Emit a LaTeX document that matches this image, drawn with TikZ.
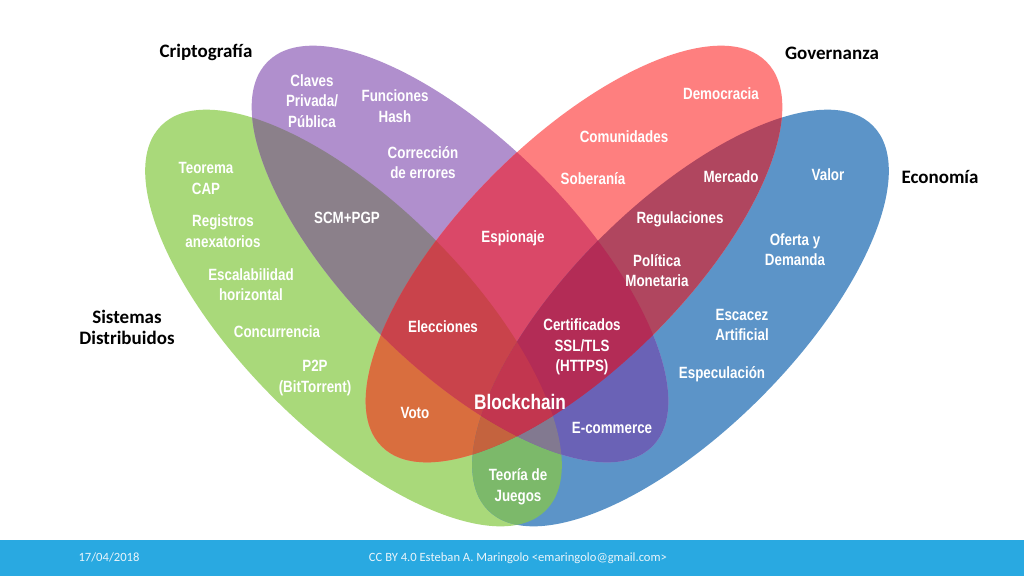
\documentclass[tikz,border=0pt]{standalone}
\usepackage{fontspec}
\setmainfont{Liberation Sans}
\newfontfamily\lblfont[FakeStretch=0.82]{Liberation Sans}
\newfontfamily\catfont{Carlito}
\definecolor{cG}{HTML}{A9D97A}
\definecolor{cP}{HTML}{B08FCD}
\definecolor{cR}{HTML}{FE7F7F}
\definecolor{cB}{HTML}{5C94C8}
\definecolor{cGP}{HTML}{8B808A}
\definecolor{cGR}{HTML}{D96E3E}
\definecolor{cGB}{HTML}{7CB96A}
\definecolor{cPR}{HTML}{DA4868}
\definecolor{cPB}{HTML}{6A62B6}
\definecolor{cRB}{HTML}{B0465F}
\definecolor{cGPR}{HTML}{C9434B}
\definecolor{cGPB}{HTML}{827990}
\definecolor{cGRB}{HTML}{C4633E}
\definecolor{cPRB}{HTML}{B32C56}
\definecolor{cGPRB}{HTML}{C2364F}
\definecolor{cBar}{HTML}{29A9E1}
\definecolor{cFoot}{HTML}{EAF5FB}
\newcommand\ellG[1]{\path[#1,rotate around={-45:(353.5,318)}] (353.5,318) ellipse [x radius=272,y radius=113];}
\newcommand\ellP[1]{\path[#1,rotate around={-45:(460,254)}] (460,254) ellipse [x radius=272,y radius=113];}
\newcommand\ellR[1]{\path[#1,rotate around={45:(574,254)}] (574,254) ellipse [x radius=272,y radius=113];}
\newcommand\ellB[1]{\path[#1,rotate around={45:(680.5,318)}] (680.5,318) ellipse [x radius=272,y radius=113];}
\begin{document}
\begin{tikzpicture}[x=1pt,y=-1pt,
  lbl/.style={text=white,font=\lblfont\bfseries\fontsize{16.3}{20.5}\selectfont,align=center,inner sep=0pt},
  big/.style={text=white,font=\lblfont\bfseries\fontsize{21}{24}\selectfont,align=center,inner sep=0pt},
  cat/.style={text=black,font=\catfont\bfseries\fontsize{19}{21.5}\selectfont,align=center,inner sep=0pt},
  foot/.style={text=cFoot,font=\catfont\fontsize{12.6}{15}\selectfont,inner sep=0pt,anchor=base}]
\useasboundingbox (0,0) rectangle (1024,576);
\fill[white] (0,0) rectangle (1024,576);
% footer bar
\fill[cBar] (0,540) rectangle (1024,576);
% single sets
\ellG{fill=cG}
\ellB{fill=cB}
\ellP{fill=cP}
\ellR{fill=cR}
% pairs
\begin{scope}\ellG{clip}\ellP{fill=cGP}\end{scope}
\begin{scope}\ellG{clip}\ellR{fill=cGR}\end{scope}
\begin{scope}\ellG{clip}\ellB{fill=cGB}\end{scope}
\begin{scope}\ellP{clip}\ellR{fill=cPR}\end{scope}
\begin{scope}\ellP{clip}\ellB{fill=cPB}\end{scope}
\begin{scope}\ellR{clip}\ellB{fill=cRB}\end{scope}
% triples
\begin{scope}\ellG{clip}\ellP{clip}\ellR{fill=cGPR}\end{scope}
\begin{scope}\ellG{clip}\ellP{clip}\ellB{fill=cGPB}\end{scope}
\begin{scope}\ellG{clip}\ellR{clip}\ellB{fill=cGRB}\end{scope}
\begin{scope}\ellP{clip}\ellR{clip}\ellB{fill=cPRB}\end{scope}
% quadruple
\begin{scope}\ellG{clip}\ellP{clip}\ellR{clip}\ellB{fill=cGPRB}\end{scope}
% category labels
\node[cat] (cripto) at (206,52) {Criptografía};
\node[cat] (gov) at (832,53) {Governanza};
\node[cat] (eco) at (940,177) {Economía};
\node[cat] (sis) at (127,327.5) {Sistemas\\Distribuidos};
% item labels
\node[lbl] (claves) at (312,101) {Claves\\Privada/\\Pública};
\node[lbl] (hash) at (395,106) {Funciones\\Hash};
\node[lbl] (correc) at (423,162.5) {Corrección\\de errores};
\node[lbl] (cap) at (206,178.5) {Teorema\\CAP};
\node[lbl] (regis) at (223,231) {Registros\\anexatorios};
\node[lbl] (scm) at (347,218) {SCM+PGP};
\node[lbl] (espio) at (513,238) {Espionaje};
\node[lbl] (escal) at (251,284.5) {Escalabilidad\\horizontal};
\node[lbl] (concu) at (277,332) {Concurrencia};
\node[lbl] (p2p) at (315,378) {P2P\\(BitTorrent)};
\node[lbl] (elecc) at (443,327) {Elecciones};
\node[lbl] (voto) at (415,413) {Voto};
\node[big] (block) at (520,402) {Blockchain};
\node[lbl] (cert) at (582,347) {Certificados\\SSL/TLS\\(HTTPS)};
\node[lbl] (polit) at (657,270.5) {Política\\Monetaria};
\node[lbl] (escas) at (742,325) {Escacez\\Artificial};
\node[lbl] (espec) at (722,374) {Especulación};
\node[lbl] (ecom) at (612,428) {E-commerce};
\node[lbl] (juegos) at (518,486.5) {Teoría de\\Juegos};
\node[lbl] (democ) at (721,94) {Democracia};
\node[lbl] (comun) at (624,137) {Comunidades};
\node[lbl] (sober) at (593,179) {Soberanía};
\node[lbl] (merc) at (731,177) {Mercado};
\node[lbl] (valor) at (828,175) {Valor};
\node[lbl] (regul) at (680,219) {Regulaciones};
\node[lbl] (ofer) at (795,249.5) {Oferta y\\Demanda};
% footer
\node[foot] (fecha) at (109,561.5) {17/04/2018};
\node[foot] (lic) at (518,561.5) {CC BY 4.0 Esteban A. Maringolo <emaringolo@gmail.com>};
\end{tikzpicture}
\end{document}
